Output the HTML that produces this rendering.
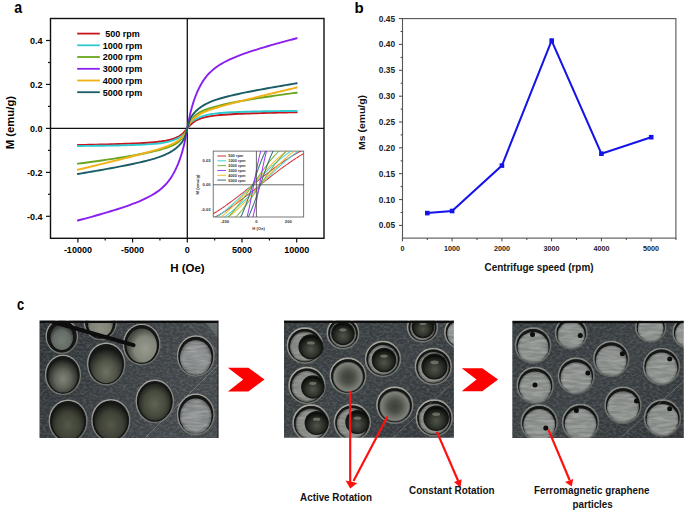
<!DOCTYPE html>
<html><head><meta charset="utf-8"><style>
html,body{margin:0;padding:0;background:#fff;}
#w{width:685px;height:512px;overflow:hidden;position:relative;background:#fff;}
svg{display:block;font-family:"Liberation Sans",sans-serif;}
</style></head><body><div id="w">
<svg width="685" height="512" viewBox="0 0 685 512">
<text transform="translate(14.3,12.6) scale(0.92,1.08)" font-size="15.4" font-weight="bold">a</text>
<rect x="50.5" y="18.5" width="273.5" height="219.8" fill="none" stroke="#111" stroke-width="1.4"/>
<line x1="50.5" y1="128.4" x2="324" y2="128.4" stroke="#111" stroke-width="1.3"/>
<line x1="187.3" y1="18.5" x2="187.3" y2="238.3" stroke="#111" stroke-width="1.3"/>
<line x1="46" y1="40.5" x2="50.5" y2="40.5" stroke="#111" stroke-width="1.2"/>
<text x="42.6" y="43.7" font-size="9" font-weight="bold" text-anchor="end">0.4</text>
<line x1="46" y1="84.4" x2="50.5" y2="84.4" stroke="#111" stroke-width="1.2"/>
<text x="42.6" y="87.6" font-size="9" font-weight="bold" text-anchor="end">0.2</text>
<line x1="46" y1="128.4" x2="50.5" y2="128.4" stroke="#111" stroke-width="1.2"/>
<text x="42.6" y="131.6" font-size="9" font-weight="bold" text-anchor="end">0.0</text>
<line x1="46" y1="172.4" x2="50.5" y2="172.4" stroke="#111" stroke-width="1.2"/>
<text x="42.6" y="175.6" font-size="9" font-weight="bold" text-anchor="end">-0.2</text>
<line x1="46" y1="216.3" x2="50.5" y2="216.3" stroke="#111" stroke-width="1.2"/>
<text x="42.6" y="219.5" font-size="9" font-weight="bold" text-anchor="end">-0.4</text>
<line x1="48" y1="62.5" x2="50.5" y2="62.5" stroke="#111" stroke-width="1.2"/>
<line x1="48" y1="106.4" x2="50.5" y2="106.4" stroke="#111" stroke-width="1.2"/>
<line x1="48" y1="150.4" x2="50.5" y2="150.4" stroke="#111" stroke-width="1.2"/>
<line x1="48" y1="194.3" x2="50.5" y2="194.3" stroke="#111" stroke-width="1.2"/>
<line x1="77.9" y1="238.3" x2="77.9" y2="242.6" stroke="#111" stroke-width="1.2"/>
<text x="77.9" y="252.8" font-size="9" font-weight="bold" text-anchor="middle">-10000</text>
<line x1="132.6" y1="238.3" x2="132.6" y2="242.6" stroke="#111" stroke-width="1.2"/>
<text x="132.6" y="252.8" font-size="9" font-weight="bold" text-anchor="middle">-5000</text>
<line x1="187.3" y1="238.3" x2="187.3" y2="242.6" stroke="#111" stroke-width="1.2"/>
<text x="187.3" y="252.8" font-size="9" font-weight="bold" text-anchor="middle">0</text>
<line x1="242.0" y1="238.3" x2="242.0" y2="242.6" stroke="#111" stroke-width="1.2"/>
<text x="242.0" y="252.8" font-size="9" font-weight="bold" text-anchor="middle">5000</text>
<line x1="296.7" y1="238.3" x2="296.7" y2="242.6" stroke="#111" stroke-width="1.2"/>
<text x="296.7" y="252.8" font-size="9" font-weight="bold" text-anchor="middle">10000</text>
<line x1="105.2" y1="238.3" x2="105.2" y2="240.6" stroke="#111" stroke-width="1.2"/>
<line x1="159.9" y1="238.3" x2="159.9" y2="240.6" stroke="#111" stroke-width="1.2"/>
<line x1="214.7" y1="238.3" x2="214.7" y2="240.6" stroke="#111" stroke-width="1.2"/>
<line x1="269.4" y1="238.3" x2="269.4" y2="240.6" stroke="#111" stroke-width="1.2"/>
<text x="187.4" y="272" font-size="11.5" font-weight="bold" text-anchor="middle">H (Oe)</text>
<text transform="translate(14.1,122.6) rotate(-90)" font-size="11.3" font-weight="bold" text-anchor="middle">M (emu/g)</text>
<g fill="none" stroke-width="1.9" stroke-linejoin="round" stroke-linecap="round"><polyline points="77.86,144.99 81.51,144.92 85.16,144.85 88.80,144.77 92.45,144.69 96.10,144.61 99.75,144.52 103.40,144.43 107.04,144.34 110.69,144.24 114.34,144.14 117.99,144.03 121.64,143.91 125.28,143.79 128.93,143.65 132.58,143.50 136.23,143.34 139.88,143.16 143.52,142.96 147.17,142.73 150.82,142.46 154.47,142.15 158.12,141.77 161.76,141.30 165.41,140.72 165.85,140.64 166.29,140.56 166.73,140.47 167.16,140.38 167.60,140.29 168.04,140.20 168.48,140.10 168.91,140.00 169.35,139.90 169.79,139.79 170.23,139.68 170.67,139.57 171.10,139.45 171.54,139.32 171.98,139.19 172.42,139.06 172.85,138.92 173.29,138.78 173.73,138.63 174.17,138.48 174.60,138.31 175.04,138.15 175.48,137.97 175.92,137.79 176.36,137.59 176.79,137.39 177.23,137.18 177.67,136.96 178.11,136.73 178.54,136.48 178.98,136.23 179.42,135.96 179.86,135.67 180.30,135.38 180.73,135.06 181.17,134.73 181.61,134.39 182.05,134.02 182.48,133.64 182.92,133.24 183.36,132.82 183.80,132.38 184.24,131.93 184.67,131.46 185.11,130.97 185.55,130.47 185.99,129.97 186.42,129.45 186.86,128.93 187.30,128.40 187.74,127.89 188.18,127.38 188.61,126.88 189.05,126.38 189.49,125.90 189.93,125.43 190.36,124.97 190.80,124.53 191.24,124.10 191.68,123.70 192.12,123.31 192.55,122.94 192.99,122.58 193.43,122.24 193.87,121.92 194.30,121.62 194.74,121.33 195.18,121.05 195.62,120.79 196.06,120.54 196.49,120.30 196.93,120.08 197.37,119.86 197.81,119.66 198.24,119.46 198.68,119.28 199.12,119.10 199.56,118.93 200.00,118.76 200.43,118.60 200.87,118.45 201.31,118.31 201.75,118.17 202.18,118.03 202.62,117.91 203.06,117.78 203.50,117.66 203.93,117.55 204.37,117.43 204.81,117.33 205.25,117.22 205.69,117.12 206.12,117.02 206.56,116.93 207.00,116.84 207.44,116.75 207.87,116.67 208.31,116.58 208.75,116.50 209.19,116.42 212.84,115.86 216.48,115.41 220.13,115.04 223.78,114.73 227.43,114.47 231.08,114.25 234.72,114.05 238.37,113.87 242.02,113.72 245.67,113.57 249.32,113.44 252.96,113.32 256.61,113.21 260.26,113.10 263.91,113.00 267.56,112.90 271.20,112.81 274.85,112.73 278.50,112.64 282.15,112.56 285.80,112.49 289.44,112.41 293.09,112.34 296.74,112.27" stroke="#c8141c"/>
<polyline points="77.86,145.98 81.51,145.95 85.16,145.91 88.80,145.88 92.45,145.84 96.10,145.79 99.75,145.75 103.40,145.70 107.04,145.64 110.69,145.58 114.34,145.52 117.99,145.44 121.64,145.36 125.28,145.27 128.93,145.17 132.58,145.06 136.23,144.92 139.88,144.77 143.52,144.60 147.17,144.39 150.82,144.14 154.47,143.83 158.12,143.45 161.76,142.97 165.41,142.34 165.85,142.26 166.29,142.17 166.73,142.07 167.16,141.98 167.60,141.88 168.04,141.77 168.48,141.67 168.91,141.56 169.35,141.44 169.79,141.32 170.23,141.20 170.67,141.07 171.10,140.94 171.54,140.80 171.98,140.66 172.42,140.52 172.85,140.37 173.29,140.21 173.73,140.05 174.17,139.88 174.60,139.70 175.04,139.52 175.48,139.34 175.92,139.15 176.36,138.95 176.79,138.74 177.23,138.53 177.67,138.31 178.11,138.08 178.54,137.85 178.98,137.61 179.42,137.36 179.86,137.11 180.30,136.84 180.73,136.57 181.17,136.29 181.61,136.00 182.05,135.70 182.48,135.39 182.92,135.07 183.36,134.73 183.80,134.37 184.24,133.99 184.67,133.57 185.11,133.10 185.55,132.55 185.99,131.87 186.42,130.97 186.86,129.80 187.30,128.40 187.74,127.01 188.18,125.84 188.61,124.95 189.05,124.27 189.49,123.72 189.93,123.25 190.36,122.84 190.80,122.46 191.24,122.10 191.68,121.77 192.12,121.45 192.55,121.14 192.99,120.84 193.43,120.55 193.87,120.27 194.30,120.00 194.74,119.74 195.18,119.48 195.62,119.24 196.06,119.00 196.49,118.76 196.93,118.54 197.37,118.32 197.81,118.11 198.24,117.91 198.68,117.71 199.12,117.52 199.56,117.33 200.00,117.15 200.43,116.98 200.87,116.81 201.31,116.65 201.75,116.49 202.18,116.34 202.62,116.20 203.06,116.06 203.50,115.92 203.93,115.79 204.37,115.66 204.81,115.54 205.25,115.42 205.69,115.31 206.12,115.20 206.56,115.09 207.00,114.99 207.44,114.89 207.87,114.80 208.31,114.70 208.75,114.61 209.19,114.53 212.84,113.90 216.48,113.43 220.13,113.05 223.78,112.74 227.43,112.49 231.08,112.29 234.72,112.11 238.37,111.96 242.02,111.83 245.67,111.71 249.32,111.61 252.96,111.52 256.61,111.44 260.26,111.37 263.91,111.30 267.56,111.24 271.20,111.19 274.85,111.14 278.50,111.09 282.15,111.05 285.80,111.01 289.44,110.98 293.09,110.94 296.74,110.91" stroke="#2cc9d2"/>
<polyline points="77.86,163.68 81.51,163.20 85.16,162.71 88.80,162.23 92.45,161.73 96.10,161.23 99.75,160.72 103.40,160.20 107.04,159.68 110.69,159.14 114.34,158.59 117.99,158.03 121.64,157.45 125.28,156.85 128.93,156.24 132.58,155.61 136.23,154.95 139.88,154.26 143.52,153.54 147.17,152.78 150.82,151.98 154.47,151.12 158.12,150.21 161.76,149.21 165.41,148.11 165.85,147.97 166.29,147.83 166.73,147.68 167.16,147.53 167.60,147.38 168.04,147.23 168.48,147.07 168.91,146.91 169.35,146.75 169.79,146.58 170.23,146.41 170.67,146.23 171.10,146.05 171.54,145.87 171.98,145.68 172.42,145.48 172.85,145.28 173.29,145.07 173.73,144.86 174.17,144.64 174.60,144.41 175.04,144.16 175.48,143.91 175.92,143.65 176.36,143.38 176.79,143.09 177.23,142.79 177.67,142.48 178.11,142.14 178.54,141.79 178.98,141.42 179.42,141.02 179.86,140.60 180.30,140.15 180.73,139.67 181.17,139.17 181.61,138.62 182.05,138.05 182.48,137.43 182.92,136.78 183.36,136.09 183.80,135.36 184.24,134.59 184.67,133.79 185.11,132.95 185.55,132.08 185.99,131.18 186.42,130.27 186.86,129.34 187.30,128.40 187.74,127.45 188.18,126.51 188.61,125.58 189.05,124.68 189.49,123.79 189.93,122.95 190.36,122.13 190.80,121.35 191.24,120.61 191.68,119.91 192.12,119.25 192.55,118.63 192.99,118.05 193.43,117.50 193.87,116.99 194.30,116.50 194.74,116.05 195.18,115.62 195.62,115.22 196.06,114.84 196.49,114.49 196.93,114.15 197.37,113.83 197.81,113.52 198.24,113.23 198.68,112.96 199.12,112.69 199.56,112.44 200.00,112.20 200.43,111.96 200.87,111.74 201.31,111.52 201.75,111.31 202.18,111.10 202.62,110.91 203.06,110.71 203.50,110.53 203.93,110.35 204.37,110.17 204.81,109.99 205.25,109.83 205.69,109.66 206.12,109.50 206.56,109.34 207.00,109.18 207.44,109.03 207.87,108.88 208.31,108.73 208.75,108.59 209.19,108.44 212.84,107.33 216.48,106.32 220.13,105.39 223.78,104.53 227.43,103.72 231.08,102.95 234.72,102.22 238.37,101.52 242.02,100.86 245.67,100.21 249.32,99.59 252.96,98.99 256.61,98.40 260.26,97.84 263.91,97.28 267.56,96.74 271.20,96.20 274.85,95.68 278.50,95.16 282.15,94.66 285.80,94.15 289.44,93.66 293.09,93.17 296.74,92.69" stroke="#6aa51f"/>
<polyline points="77.86,169.73 81.51,168.85 85.16,167.97 88.80,167.09 92.45,166.21 96.10,165.32 99.75,164.44 103.40,163.55 107.04,162.66 110.69,161.76 114.34,160.86 117.99,159.96 121.64,159.05 125.28,158.14 128.93,157.22 132.58,156.29 136.23,155.35 139.88,154.40 143.52,153.44 147.17,152.45 150.82,151.44 154.47,150.39 158.12,149.30 161.76,148.14 165.41,146.89 165.85,146.73 166.29,146.57 166.73,146.40 167.16,146.23 167.60,146.07 168.04,145.89 168.48,145.72 168.91,145.54 169.35,145.36 169.79,145.17 170.23,144.98 170.67,144.79 171.10,144.59 171.54,144.39 171.98,144.18 172.42,143.97 172.85,143.75 173.29,143.52 173.73,143.29 174.17,143.06 174.60,142.81 175.04,142.56 175.48,142.30 175.92,142.04 176.36,141.76 176.79,141.48 177.23,141.18 177.67,140.88 178.11,140.56 178.54,140.24 178.98,139.90 179.42,139.55 179.86,139.19 180.30,138.81 180.73,138.42 181.17,138.02 181.61,137.60 182.05,137.17 182.48,136.72 182.92,136.26 183.36,135.77 183.80,135.27 184.24,134.73 184.67,134.16 185.11,133.54 185.55,132.85 185.99,132.04 186.42,131.05 186.86,129.82 187.30,128.40 187.74,127.00 188.18,125.78 188.61,124.80 189.05,123.99 189.49,123.31 189.93,122.70 190.36,122.14 190.80,121.61 191.24,121.11 191.68,120.63 192.12,120.17 192.55,119.72 192.99,119.29 193.43,118.88 193.87,118.48 194.30,118.10 194.74,117.73 195.18,117.37 195.62,117.02 196.06,116.69 196.49,116.37 196.93,116.06 197.37,115.76 197.81,115.46 198.24,115.18 198.68,114.91 199.12,114.64 199.56,114.39 200.00,114.14 200.43,113.90 200.87,113.66 201.31,113.44 201.75,113.22 202.18,113.00 202.62,112.79 203.06,112.58 203.50,112.38 203.93,112.19 204.37,112.00 204.81,111.81 205.25,111.62 205.69,111.44 206.12,111.27 206.56,111.09 207.00,110.92 207.44,110.75 207.87,110.59 208.31,110.43 208.75,110.27 209.19,110.11 212.84,108.87 216.48,107.72 220.13,106.64 223.78,105.61 227.43,104.61 231.08,103.63 234.72,102.67 238.37,101.73 242.02,100.81 245.67,99.89 249.32,98.98 252.96,98.07 256.61,97.18 260.26,96.28 263.91,95.39 267.56,94.51 271.20,93.63 274.85,92.75 278.50,91.87 282.15,91.00 285.80,90.12 289.44,89.25 293.09,88.38 296.74,87.51" stroke="#f2b112"/>
<polyline points="77.86,220.52 81.51,219.54 85.16,218.55 88.80,217.56 92.45,216.55 96.10,215.52 99.75,214.48 103.40,213.43 107.04,212.35 110.69,211.25 114.34,210.13 117.99,208.98 121.64,207.79 125.28,206.56 128.93,205.28 132.58,203.94 136.23,202.54 139.88,201.04 143.52,199.44 147.17,197.70 150.82,195.78 154.47,193.62 158.12,191.15 161.76,188.24 165.41,184.73 165.85,184.26 166.29,183.77 166.73,183.28 167.16,182.77 167.60,182.24 168.04,181.70 168.48,181.15 168.91,180.58 169.35,179.99 169.79,179.39 170.23,178.77 170.67,178.13 171.10,177.47 171.54,176.79 171.98,176.09 172.42,175.38 172.85,174.64 173.29,173.87 173.73,173.09 174.17,172.28 174.60,171.44 175.04,170.58 175.48,169.70 175.92,168.78 176.36,167.84 176.79,166.87 177.23,165.87 177.67,164.84 178.11,163.77 178.54,162.68 178.98,161.54 179.42,160.37 179.86,159.16 180.30,157.90 180.73,156.61 181.17,155.26 181.61,153.86 182.05,152.40 182.48,150.87 182.92,149.27 183.36,147.60 183.80,145.83 184.24,143.98 184.67,142.02 185.11,139.96 185.55,137.80 185.99,135.55 186.42,133.21 186.86,130.82 187.30,128.40 187.74,126.03 188.18,123.69 188.61,121.41 189.05,119.20 189.49,117.09 189.93,115.07 190.36,113.16 190.80,111.34 191.24,109.61 191.68,107.97 192.12,106.41 192.55,104.92 192.99,103.49 193.43,102.12 193.87,100.80 194.30,99.53 194.74,98.30 195.18,97.12 195.62,95.97 196.06,94.86 196.49,93.79 196.93,92.74 197.37,91.73 197.81,90.76 198.24,89.81 198.68,88.88 199.12,87.99 199.56,87.12 200.00,86.28 200.43,85.47 200.87,84.67 201.31,83.90 201.75,83.16 202.18,82.43 202.62,81.73 203.06,81.05 203.50,80.38 203.93,79.74 204.37,79.12 204.81,78.51 205.25,77.92 205.69,77.34 206.12,76.79 206.56,76.24 207.00,75.72 207.44,75.20 207.87,74.70 208.31,74.22 208.75,73.74 209.19,73.28 212.84,69.85 216.48,67.00 220.13,64.58 223.78,62.47 227.43,60.59 231.08,58.89 234.72,57.32 238.37,55.86 242.02,54.48 245.67,53.17 249.32,51.92 252.96,50.72 256.61,49.55 260.26,48.42 263.91,47.33 267.56,46.25 271.20,45.20 274.85,44.16 278.50,43.15 282.15,42.15 285.80,41.16 289.44,40.18 293.09,39.22 296.74,38.26" stroke="#8a1ff0"/>
<polyline points="77.86,174.02 81.51,173.40 85.16,172.77 88.80,172.14 92.45,171.50 96.10,170.86 99.75,170.22 103.40,169.56 107.04,168.90 110.69,168.24 114.34,167.56 117.99,166.87 121.64,166.17 125.28,165.45 128.93,164.72 132.58,163.96 136.23,163.18 139.88,162.36 143.52,161.51 147.17,160.60 150.82,159.63 154.47,158.57 158.12,157.40 161.76,156.08 165.41,154.56 165.85,154.36 166.29,154.16 166.73,153.95 167.16,153.74 167.60,153.52 168.04,153.30 168.48,153.07 168.91,152.84 169.35,152.61 169.79,152.36 170.23,152.12 170.67,151.86 171.10,151.60 171.54,151.34 171.98,151.07 172.42,150.79 172.85,150.50 173.29,150.21 173.73,149.91 174.17,149.60 174.60,149.29 175.04,148.96 175.48,148.63 175.92,148.28 176.36,147.93 176.79,147.57 177.23,147.19 177.67,146.81 178.11,146.41 178.54,146.00 178.98,145.57 179.42,145.12 179.86,144.66 180.30,144.18 180.73,143.67 181.17,143.13 181.61,142.57 182.05,141.96 182.48,141.31 182.92,140.61 183.36,139.84 183.80,138.99 184.24,138.06 184.67,137.02 185.11,135.86 185.55,134.58 185.99,133.17 186.42,131.65 186.86,130.05 187.30,128.40 187.74,126.77 188.18,125.18 188.61,123.67 189.05,122.28 189.49,121.01 189.93,119.87 190.36,118.84 190.80,117.91 191.24,117.07 191.68,116.31 192.12,115.61 192.55,114.97 192.99,114.37 193.43,113.81 193.87,113.28 194.30,112.78 194.74,112.30 195.18,111.84 195.62,111.40 196.06,110.97 196.49,110.56 196.93,110.17 197.37,109.79 197.81,109.42 198.24,109.06 198.68,108.71 199.12,108.37 199.56,108.04 200.00,107.72 200.43,107.40 200.87,107.10 201.31,106.80 201.75,106.51 202.18,106.23 202.62,105.95 203.06,105.68 203.50,105.42 203.93,105.16 204.37,104.91 204.81,104.67 205.25,104.43 205.69,104.19 206.12,103.97 206.56,103.74 207.00,103.52 207.44,103.31 207.87,103.10 208.31,102.89 208.75,102.69 209.19,102.49 212.84,100.98 216.48,99.68 220.13,98.52 223.78,97.47 227.43,96.51 231.08,95.61 234.72,94.77 238.37,93.96 242.02,93.18 245.67,92.44 249.32,91.71 252.96,91.00 256.61,90.30 260.26,89.62 263.91,88.95 267.56,88.29 271.20,87.63 274.85,86.99 278.50,86.35 282.15,85.71 285.80,85.08 289.44,84.46 293.09,83.84 296.74,83.22" stroke="#1b5c66"/></g>
<line x1="77.2" y1="33.6" x2="99.8" y2="33.6" stroke="#c8141c" stroke-width="1.8"/>
<text x="122.6" y="36.9" font-size="9" font-weight="bold" text-anchor="middle">500 rpm</text>
<line x1="77.2" y1="45.3" x2="99.8" y2="45.3" stroke="#2cc9d2" stroke-width="1.8"/>
<text x="122.6" y="48.6" font-size="9" font-weight="bold" text-anchor="middle">1000 rpm</text>
<line x1="77.2" y1="57.0" x2="99.8" y2="57.0" stroke="#6aa51f" stroke-width="1.8"/>
<text x="122.6" y="60.3" font-size="9" font-weight="bold" text-anchor="middle">2000 rpm</text>
<line x1="77.2" y1="68.8" x2="99.8" y2="68.8" stroke="#8a1ff0" stroke-width="1.8"/>
<text x="122.6" y="72.1" font-size="9" font-weight="bold" text-anchor="middle">3000 rpm</text>
<line x1="77.2" y1="80.5" x2="99.8" y2="80.5" stroke="#f2b112" stroke-width="1.8"/>
<text x="122.6" y="83.8" font-size="9" font-weight="bold" text-anchor="middle">4000 rpm</text>
<line x1="77.2" y1="92.2" x2="99.8" y2="92.2" stroke="#1b5c66" stroke-width="1.8"/>
<text x="122.6" y="95.5" font-size="9" font-weight="bold" text-anchor="middle">5000 rpm</text>
<g>
<rect x="213.2" y="151.1" width="90.5" height="65.9" fill="#fff" stroke="#555" stroke-width="0.8"/>
<clipPath id="ic"><rect x="213.2" y="151.1" width="90.5" height="65.9"/></clipPath>
<g clip-path="url(#ic)" fill="none" stroke-width="1.05" opacity="0.85"><polyline points="213.2,213.8 214.5,213.0 215.8,212.2 217.1,211.4 218.4,210.5 219.8,209.6 221.1,208.8 222.4,207.9 223.7,207.0 225.0,206.1 226.3,205.1 227.6,204.2 228.9,203.3 230.3,202.3 231.6,201.4 232.9,200.4 234.2,199.4 235.5,198.4 236.8,197.4 238.1,196.4 239.4,195.4 240.7,194.4 242.1,193.3 243.4,192.3 244.7,191.3 246.0,190.2 247.3,189.2 248.6,188.1 249.9,187.1 251.2,186.1 252.5,185.0 253.9,184.0 255.2,182.9 256.5,181.9 257.8,180.8 259.1,179.8 260.4,178.7 261.7,177.7 263.0,176.7 264.4,175.6 265.7,174.6 267.0,173.6 268.3,172.6 269.6,171.6 270.9,170.6 272.2,169.6 273.5,168.6 274.8,167.7 276.2,166.7 277.5,165.7 278.8,164.8 280.1,163.9 281.4,163.0 282.7,162.1 284.0,161.2 285.3,160.3 286.6,159.4 288.0,158.6 289.3,157.7 290.6,156.9 291.9,156.1 293.2,155.3 294.5,154.5 295.8,153.7 297.1,153.0 298.5,152.2 299.8,151.5 301.1,150.8 302.4,150.1 303.7,149.4" stroke="#c8141c"/>
<polyline points="213.2,218.3 214.5,217.5 215.8,216.8 217.1,216.0 218.4,215.3 219.8,214.5 221.1,213.7 222.4,212.9 223.7,212.0 225.0,211.2 226.3,210.3 227.6,209.5 228.9,208.6 230.3,207.7 231.6,206.8 232.9,205.9 234.2,205.0 235.5,204.0 236.8,203.1 238.1,202.1 239.4,201.2 240.7,200.2 242.1,199.2 243.4,198.2 244.7,197.2 246.0,196.2 247.3,195.2 248.6,194.2 249.9,193.1 251.2,192.1 252.5,191.1 253.9,190.0 255.2,189.0 256.5,187.9 257.8,186.9 259.1,185.8 260.4,184.8 261.7,183.7 263.0,182.7 264.4,181.6 265.7,180.6 267.0,179.6 268.3,178.5 269.6,177.5 270.9,176.4 272.2,175.4 273.5,174.4 274.8,173.4 276.2,172.4 277.5,171.4 278.8,170.4 280.1,169.4 281.4,168.4 282.7,167.5 284.0,166.5 285.3,165.6 286.6,164.6 288.0,163.7 289.3,162.8 290.6,161.9 291.9,161.0 293.2,160.1 294.5,159.2 295.8,158.4 297.1,157.6 298.5,156.7 299.8,155.9 301.1,155.1 302.4,154.3 303.7,153.6" stroke="#c8141c"/>
<polyline points="213.2,219.5 214.5,218.6 215.8,217.7 217.1,216.8 218.4,215.8 219.8,214.9 221.1,213.9 222.4,212.9 223.7,211.8 225.0,210.8 226.3,209.7 227.6,208.6 228.9,207.5 230.3,206.3 231.6,205.2 232.9,204.0 234.2,202.8 235.5,201.6 236.8,200.4 238.1,199.2 239.4,198.0 240.7,196.7 242.1,195.4 243.4,194.2 244.7,192.9 246.0,191.6 247.3,190.3 248.6,189.0 249.9,187.7 251.2,186.4 252.5,185.1 253.9,183.7 255.2,182.4 256.5,181.1 257.8,179.8 259.1,178.5 260.4,177.2 261.7,175.9 263.0,174.7 264.4,173.4 265.7,172.1 267.0,170.9 268.3,169.6 269.6,168.4 270.9,167.2 272.2,166.0 273.5,164.9 274.8,163.7 276.2,162.6 277.5,161.4 278.8,160.3 280.1,159.2 281.4,158.2 282.7,157.1 284.0,156.1 285.3,155.1 286.6,154.1 288.0,153.2 289.3,152.2 290.6,151.3 291.9,150.4 293.2,149.6 294.5,148.7 295.8,147.9 297.1,147.1 298.5,146.3 299.8,145.5 301.1,144.8 302.4,144.1 303.7,143.4" stroke="#2cc9d2"/>
<polyline points="213.2,224.2 214.5,223.4 215.8,222.7 217.1,221.9 218.4,221.0 219.8,220.2 221.1,219.3 222.4,218.4 223.7,217.5 225.0,216.6 226.3,215.6 227.6,214.7 228.9,213.7 230.3,212.6 231.6,211.6 232.9,210.5 234.2,209.5 235.5,208.4 236.8,207.2 238.1,206.1 239.4,205.0 240.7,203.8 242.1,202.6 243.4,201.4 244.7,200.2 246.0,198.9 247.3,197.7 248.6,196.4 249.9,195.2 251.2,193.9 252.5,192.6 253.9,191.3 255.2,190.0 256.5,188.7 257.8,187.4 259.1,186.1 260.4,184.8 261.7,183.5 263.0,182.2 264.4,180.9 265.7,179.5 267.0,178.3 268.3,177.0 269.6,175.7 270.9,174.4 272.2,173.1 273.5,171.9 274.8,170.6 276.2,169.4 277.5,168.2 278.8,167.0 280.1,165.8 281.4,164.6 282.7,163.5 284.0,162.3 285.3,161.2 286.6,160.1 288.0,159.0 289.3,158.0 290.6,156.9 291.9,155.9 293.2,154.9 294.5,153.9 295.8,153.0 297.1,152.1 298.5,151.1 299.8,150.3 301.1,149.4 302.4,148.5 303.7,147.7" stroke="#2cc9d2"/>
<polyline points="213.2,222.8 214.5,221.9 215.8,221.0 217.1,220.0 218.4,219.0 219.8,218.0 221.1,217.0 222.4,215.9 223.7,214.8 225.0,213.7 226.3,212.5 227.6,211.3 228.9,210.1 230.3,208.9 231.6,207.6 232.9,206.4 234.2,205.0 235.5,203.7 236.8,202.4 238.1,201.0 239.4,199.6 240.7,198.2 242.1,196.8 243.4,195.4 244.7,193.9 246.0,192.5 247.3,191.0 248.6,189.5 249.9,188.1 251.2,186.6 252.5,185.1 253.9,183.6 255.2,182.1 256.5,180.6 257.8,179.2 259.1,177.7 260.4,176.2 261.7,174.8 263.0,173.3 264.4,171.9 265.7,170.5 267.0,169.1 268.3,167.8 269.6,166.4 270.9,165.1 272.2,163.7 273.5,162.5 274.8,161.2 276.2,159.9 277.5,158.7 278.8,157.5 280.1,156.4 281.4,155.2 282.7,154.1 284.0,153.0 285.3,152.0 286.6,151.0 288.0,150.0 289.3,149.0 290.6,148.1 291.9,147.1 293.2,146.3 294.5,145.4 295.8,144.6 297.1,143.8 298.5,143.0 299.8,142.2 301.1,141.5 302.4,140.8 303.7,140.1" stroke="#f2b112"/>
<polyline points="213.2,227.5 214.5,226.8 215.8,226.0 217.1,225.2 218.4,224.4 219.8,223.5 221.1,222.6 222.4,221.7 223.7,220.8 225.0,219.8 226.3,218.8 227.6,217.8 228.9,216.7 230.3,215.7 231.6,214.6 232.9,213.4 234.2,212.3 235.5,211.1 236.8,209.9 238.1,208.6 239.4,207.4 240.7,206.1 242.1,204.8 243.4,203.4 244.7,202.1 246.0,200.7 247.3,199.3 248.6,197.9 249.9,196.5 251.2,195.1 252.5,193.6 253.9,192.2 255.2,190.7 256.5,189.2 257.8,187.7 259.1,186.3 260.4,184.8 261.7,183.3 263.0,181.8 264.4,180.3 265.7,178.9 267.0,177.4 268.3,175.9 269.6,174.5 270.9,173.1 272.2,171.6 273.5,170.2 274.8,168.8 276.2,167.5 277.5,166.1 278.8,164.8 280.1,163.5 281.4,162.2 282.7,160.9 284.0,159.7 285.3,158.5 286.6,157.3 288.0,156.1 289.3,155.0 290.6,153.9 291.9,152.8 293.2,151.8 294.5,150.8 295.8,149.8 297.1,148.8 298.5,147.9 299.8,147.0 301.1,146.1 302.4,145.2 303.7,144.4" stroke="#f2b112"/>
<polyline points="213.2,229.6 214.5,228.7 215.8,227.8 217.1,226.9 218.4,225.9 219.8,224.8 221.1,223.8 222.4,222.6 223.7,221.4 225.0,220.2 226.3,218.9 227.6,217.6 228.9,216.2 230.3,214.8 231.6,213.4 232.9,211.9 234.2,210.3 235.5,208.7 236.8,207.1 238.1,205.4 239.4,203.7 240.7,202.0 242.1,200.2 243.4,198.4 244.7,196.5 246.0,194.7 247.3,192.8 248.6,190.9 249.9,189.0 251.2,187.1 252.5,185.2 253.9,183.2 255.2,181.3 256.5,179.4 257.8,177.5 259.1,175.6 260.4,173.8 261.7,171.9 263.0,170.1 264.4,168.3 265.7,166.6 267.0,164.8 268.3,163.2 269.6,161.5 270.9,159.9 272.2,158.3 273.5,156.8 274.8,155.3 276.2,153.9 277.5,152.5 278.8,151.2 280.1,149.9 281.4,148.6 282.7,147.4 284.0,146.3 285.3,145.2 286.6,144.1 288.0,143.1 289.3,142.1 290.6,141.2 291.9,140.3 293.2,139.5 294.5,138.7 295.8,137.9 297.1,137.2 298.5,136.5 299.8,135.8 301.1,135.2 302.4,134.6 303.7,134.0" stroke="#6aa51f"/>
<polyline points="213.2,233.9 214.5,233.2 215.8,232.6 217.1,231.8 218.4,231.1 219.8,230.3 221.1,229.4 222.4,228.6 223.7,227.6 225.0,226.7 226.3,225.7 227.6,224.6 228.9,223.5 230.3,222.4 231.6,221.2 232.9,220.0 234.2,218.7 235.5,217.3 236.8,216.0 238.1,214.5 239.4,213.1 240.7,211.5 242.1,210.0 243.4,208.4 244.7,206.7 246.0,205.1 247.3,203.3 248.6,201.6 249.9,199.8 251.2,198.0 252.5,196.2 253.9,194.3 255.2,192.4 256.5,190.5 257.8,188.6 259.1,186.7 260.4,184.8 261.7,182.9 263.0,180.9 264.4,179.0 265.7,177.1 267.0,175.3 268.3,173.4 269.6,171.6 270.9,169.7 272.2,168.0 273.5,166.2 274.8,164.5 276.2,162.8 277.5,161.2 278.8,159.6 280.1,158.0 281.4,156.5 282.7,155.0 284.0,153.6 285.3,152.2 286.6,150.9 288.0,149.6 289.3,148.4 290.6,147.2 291.9,146.0 293.2,145.0 294.5,143.9 295.8,142.9 297.1,141.9 298.5,141.0 299.8,140.1 301.1,139.3 302.4,138.5 303.7,137.8" stroke="#6aa51f"/>
<polyline points="213.2,242.6 214.5,242.2 215.8,241.9 217.1,241.5 218.4,241.1 219.8,240.5 221.1,240.0 222.4,239.3 223.7,238.6 225.0,237.8 226.3,236.9 227.6,235.8 228.9,234.7 230.3,233.4 231.6,232.0 232.9,230.4 234.2,228.7 235.5,226.7 236.8,224.6 238.1,222.3 239.4,219.8 240.7,217.1 242.1,214.3 243.4,211.2 244.7,207.9 246.0,204.5 247.3,200.9 248.6,197.2 249.9,193.4 251.2,189.5 252.5,185.6 253.9,181.6 255.2,177.7 256.5,173.9 257.8,170.1 259.1,166.5 260.4,163.0 261.7,159.7 263.0,156.5 264.4,153.5 265.7,150.8 267.0,148.2 268.3,145.8 269.6,143.7 270.9,141.7 272.2,139.8 273.5,138.2 274.8,136.7 276.2,135.4 277.5,134.2 278.8,133.1 280.1,132.2 281.4,131.3 282.7,130.5 284.0,129.9 285.3,129.3 286.6,128.7 288.0,128.3 289.3,127.8 290.6,127.5 291.9,127.2 293.2,126.9 294.5,126.6 295.8,126.4 297.1,126.2 298.5,126.0 299.8,125.9 301.1,125.8 302.4,125.6 303.7,125.5" stroke="#1b5c66"/>
<polyline points="213.2,243.7 214.5,243.6 215.8,243.4 217.1,243.2 218.4,243.0 219.8,242.8 221.1,242.5 222.4,242.2 223.7,241.8 225.0,241.4 226.3,241.0 227.6,240.4 228.9,239.9 230.3,239.2 231.6,238.4 232.9,237.6 234.2,236.7 235.5,235.6 236.8,234.4 238.1,233.1 239.4,231.7 240.7,230.1 242.1,228.3 243.4,226.3 244.7,224.2 246.0,221.8 247.3,219.3 248.6,216.6 249.9,213.6 251.2,210.5 252.5,207.2 253.9,203.8 255.2,200.1 256.5,196.4 257.8,192.6 259.1,188.7 260.4,184.7 261.7,180.8 263.0,176.9 264.4,173.1 265.7,169.4 267.0,165.8 268.3,162.3 269.6,159.0 270.9,155.9 272.2,153.0 273.5,150.2 274.8,147.7 276.2,145.4 277.5,143.2 278.8,141.3 280.1,139.5 281.4,137.9 282.7,136.4 284.0,135.1 285.3,134.0 286.6,132.9 288.0,132.0 289.3,131.1 290.6,130.4 291.9,129.7 293.2,129.1 294.5,128.6 295.8,128.2 297.1,127.8 298.5,127.4 299.8,127.1 301.1,126.8 302.4,126.6 303.7,126.4" stroke="#1b5c66"/>
<polyline points="213.2,244.7 214.5,244.7 215.8,244.7 217.1,244.6 218.4,244.6 219.8,244.5 221.1,244.5 222.4,244.4 223.7,244.3 225.0,244.2 226.3,244.0 227.6,243.8 228.9,243.5 230.3,243.1 231.6,242.7 232.9,242.1 234.2,241.4 235.5,240.6 236.8,239.5 238.1,238.1 239.4,236.5 240.7,234.4 242.1,231.9 243.4,228.9 244.7,225.3 246.0,221.1 247.3,216.2 248.6,210.7 249.9,204.6 251.2,198.0 252.5,191.1 253.9,183.9 255.2,176.8 256.5,169.9 257.8,163.4 259.1,157.5 260.4,152.1 261.7,147.4 263.0,143.4 264.4,139.9 265.7,137.0 267.0,134.7 268.3,132.7 269.6,131.1 270.9,129.8 272.2,128.8 273.5,128.0 274.8,127.3 276.2,126.8 277.5,126.4 278.8,126.0 280.1,125.8 281.4,125.6 282.7,125.4 284.0,125.3 285.3,125.2 286.6,125.1 288.0,125.0 289.3,125.0 290.6,124.9 291.9,124.9 293.2,124.9 294.5,124.9 295.8,124.9 297.1,124.8 298.5,124.8 299.8,124.8 301.1,124.8 302.4,124.8 303.7,124.8" stroke="#8a1ff0"/>
<polyline points="213.2,244.8 214.5,244.8 215.8,244.8 217.1,244.7 218.4,244.7 219.8,244.7 221.1,244.7 222.4,244.7 223.7,244.6 225.0,244.6 226.3,244.5 227.6,244.4 228.9,244.3 230.3,244.2 231.6,244.1 232.9,243.9 234.2,243.6 235.5,243.3 236.8,242.9 238.1,242.4 239.4,241.8 240.7,241.0 242.1,240.0 243.4,238.7 244.7,237.2 246.0,235.3 247.3,233.0 248.6,230.2 249.9,226.9 251.2,223.0 252.5,218.4 253.9,213.1 255.2,207.3 256.5,200.9 257.8,194.0 259.1,186.9 260.4,179.8 261.7,172.8 263.0,166.1 264.4,159.9 265.7,154.3 267.0,149.3 268.3,145.0 269.6,141.3 270.9,138.2 272.2,135.6 273.5,133.5 274.8,131.7 276.2,130.3 277.5,129.2 278.8,128.3 280.1,127.6 281.4,127.0 282.7,126.5 284.0,126.2 285.3,125.9 286.6,125.7 288.0,125.5 289.3,125.3 290.6,125.2 291.9,125.1 293.2,125.1 294.5,125.0 295.8,125.0 297.1,124.9 298.5,124.9 299.8,124.9 301.1,124.9 302.4,124.8 303.7,124.8" stroke="#8a1ff0"/></g>
<line x1="213.2" y1="184.8" x2="303.7" y2="184.8" stroke="#444" stroke-width="0.8"/>
<line x1="256.4" y1="151.1" x2="256.4" y2="217" stroke="#444" stroke-width="0.8"/>
<line x1="217.3" y1="156.0" x2="226.1" y2="156.0" stroke="#c8141c" stroke-width="1.1" opacity="0.8"/>
<text x="228.3" y="157.4" font-size="3.9" font-weight="bold" fill="#333">500 rpm</text>
<line x1="217.3" y1="160.8" x2="226.1" y2="160.8" stroke="#2cc9d2" stroke-width="1.1" opacity="0.8"/>
<text x="228.3" y="162.2" font-size="3.9" font-weight="bold" fill="#333">1000 rpm</text>
<line x1="217.3" y1="165.6" x2="226.1" y2="165.6" stroke="#6aa51f" stroke-width="1.1" opacity="0.8"/>
<text x="228.3" y="167.0" font-size="3.9" font-weight="bold" fill="#333">2000 rpm</text>
<line x1="217.3" y1="170.5" x2="226.1" y2="170.5" stroke="#8a1ff0" stroke-width="1.1" opacity="0.8"/>
<text x="228.3" y="171.9" font-size="3.9" font-weight="bold" fill="#333">3000 rpm</text>
<line x1="217.3" y1="175.3" x2="226.1" y2="175.3" stroke="#f2b112" stroke-width="1.1" opacity="0.8"/>
<text x="228.3" y="176.7" font-size="3.9" font-weight="bold" fill="#333">4000 rpm</text>
<line x1="217.3" y1="180.1" x2="226.1" y2="180.1" stroke="#1b5c66" stroke-width="1.1" opacity="0.8"/>
<text x="228.3" y="181.5" font-size="3.9" font-weight="bold" fill="#333">5000 rpm</text>
<text x="210.6" y="161.5" font-size="4.2" font-weight="bold" fill="#333" text-anchor="end">0.03</text>
<text x="210.6" y="186.3" font-size="4.2" font-weight="bold" fill="#333" text-anchor="end">0.00</text>
<text x="210.6" y="211.1" font-size="4.2" font-weight="bold" fill="#333" text-anchor="end">-0.03</text>
<text x="224.9" y="222.6" font-size="4.2" font-weight="bold" fill="#333" text-anchor="middle">-200</text>
<text x="256.4" y="222.6" font-size="4.2" font-weight="bold" fill="#333" text-anchor="middle">0</text>
<text x="288.3" y="222.6" font-size="4.2" font-weight="bold" fill="#333" text-anchor="middle">200</text>
<text x="258.6" y="229.6" font-size="4.2" font-weight="bold" fill="#333" text-anchor="middle">H (Oe)</text>
<text transform="translate(198.8,184.5) rotate(-90)" font-size="4.2" font-weight="bold" fill="#333" text-anchor="middle">M (emu/g)</text>
</g>
<text x="354.6" y="13" font-size="15" font-weight="bold">b</text>
<rect x="402.5" y="18.6" width="273.4" height="219.5" fill="none" stroke="#555" stroke-width="1.1"/>
<line x1="399" y1="225.4" x2="402.5" y2="225.4" stroke="#444" stroke-width="1"/>
<text x="395" y="228.3" font-size="8.3" font-weight="bold" text-anchor="end" fill="#222">0.05</text>
<line x1="399" y1="199.6" x2="402.5" y2="199.6" stroke="#444" stroke-width="1"/>
<text x="395" y="202.5" font-size="8.3" font-weight="bold" text-anchor="end" fill="#222">0.10</text>
<line x1="399" y1="173.7" x2="402.5" y2="173.7" stroke="#444" stroke-width="1"/>
<text x="395" y="176.6" font-size="8.3" font-weight="bold" text-anchor="end" fill="#222">0.15</text>
<line x1="399" y1="147.8" x2="402.5" y2="147.8" stroke="#444" stroke-width="1"/>
<text x="395" y="150.8" font-size="8.3" font-weight="bold" text-anchor="end" fill="#222">0.20</text>
<line x1="399" y1="122.0" x2="402.5" y2="122.0" stroke="#444" stroke-width="1"/>
<text x="395" y="124.9" font-size="8.3" font-weight="bold" text-anchor="end" fill="#222">0.25</text>
<line x1="399" y1="96.2" x2="402.5" y2="96.2" stroke="#444" stroke-width="1"/>
<text x="395" y="99.1" font-size="8.3" font-weight="bold" text-anchor="end" fill="#222">0.30</text>
<line x1="399" y1="70.3" x2="402.5" y2="70.3" stroke="#444" stroke-width="1"/>
<text x="395" y="73.2" font-size="8.3" font-weight="bold" text-anchor="end" fill="#222">0.35</text>
<line x1="399" y1="44.4" x2="402.5" y2="44.4" stroke="#444" stroke-width="1"/>
<text x="395" y="47.3" font-size="8.3" font-weight="bold" text-anchor="end" fill="#222">0.40</text>
<line x1="399" y1="18.6" x2="402.5" y2="18.6" stroke="#444" stroke-width="1"/>
<text x="395" y="21.5" font-size="8.3" font-weight="bold" text-anchor="end" fill="#222">0.45</text>
<line x1="400.6" y1="212.5" x2="402.5" y2="212.5" stroke="#444" stroke-width="1"/>
<line x1="400.6" y1="186.6" x2="402.5" y2="186.6" stroke="#444" stroke-width="1"/>
<line x1="400.6" y1="160.8" x2="402.5" y2="160.8" stroke="#444" stroke-width="1"/>
<line x1="400.6" y1="134.9" x2="402.5" y2="134.9" stroke="#444" stroke-width="1"/>
<line x1="400.6" y1="109.1" x2="402.5" y2="109.1" stroke="#444" stroke-width="1"/>
<line x1="400.6" y1="83.2" x2="402.5" y2="83.2" stroke="#444" stroke-width="1"/>
<line x1="400.6" y1="57.4" x2="402.5" y2="57.4" stroke="#444" stroke-width="1"/>
<line x1="400.6" y1="31.5" x2="402.5" y2="31.5" stroke="#444" stroke-width="1"/>
<line x1="402.4" y1="238.1" x2="402.4" y2="241.4" stroke="#444" stroke-width="1"/>
<text x="402.4" y="251.4" font-size="7.2" font-weight="bold" text-anchor="middle" fill="#222">0</text>
<line x1="452.1" y1="238.1" x2="452.1" y2="241.4" stroke="#444" stroke-width="1"/>
<text x="452.1" y="251.4" font-size="7.2" font-weight="bold" text-anchor="middle" fill="#222">1000</text>
<line x1="501.9" y1="238.1" x2="501.9" y2="241.4" stroke="#444" stroke-width="1"/>
<text x="501.9" y="251.4" font-size="7.2" font-weight="bold" text-anchor="middle" fill="#222">2000</text>
<line x1="551.6" y1="238.1" x2="551.6" y2="241.4" stroke="#444" stroke-width="1"/>
<text x="551.6" y="251.4" font-size="7.2" font-weight="bold" text-anchor="middle" fill="#222">3000</text>
<line x1="601.4" y1="238.1" x2="601.4" y2="241.4" stroke="#444" stroke-width="1"/>
<text x="601.4" y="251.4" font-size="7.2" font-weight="bold" text-anchor="middle" fill="#222">4000</text>
<line x1="651.1" y1="238.1" x2="651.1" y2="241.4" stroke="#444" stroke-width="1"/>
<text x="651.1" y="251.4" font-size="7.2" font-weight="bold" text-anchor="middle" fill="#222">5000</text>
<line x1="427.3" y1="238.1" x2="427.3" y2="240" stroke="#444" stroke-width="1"/>
<line x1="477.0" y1="238.1" x2="477.0" y2="240" stroke="#444" stroke-width="1"/>
<line x1="526.8" y1="238.1" x2="526.8" y2="240" stroke="#444" stroke-width="1"/>
<line x1="576.5" y1="238.1" x2="576.5" y2="240" stroke="#444" stroke-width="1"/>
<line x1="626.3" y1="238.1" x2="626.3" y2="240" stroke="#444" stroke-width="1"/>
<line x1="676.0" y1="238.1" x2="676.0" y2="240" stroke="#444" stroke-width="1"/>
<text x="539" y="271.2" font-size="10.2" font-weight="bold" text-anchor="middle" fill="#111" textLength="109" lengthAdjust="spacingAndGlyphs">Centrifuge speed (rpm)</text>
<text transform="translate(365.3,122.4) rotate(-90)" font-size="9.7" font-weight="bold" text-anchor="middle" fill="#111" textLength="55" lengthAdjust="spacingAndGlyphs">Ms (emu/g)</text>
<polyline points="427.3,213.1 452.1,211.0 501.9,165.6 551.6,40.6 601.4,153.7 651.1,137.2" fill="none" stroke="#1414e8" stroke-width="2"/>
<rect x="425.0" y="210.8" width="4.6" height="4.6" fill="#1414e8"/>
<rect x="449.8" y="208.7" width="4.6" height="4.6" fill="#1414e8"/>
<rect x="499.6" y="163.3" width="4.6" height="4.6" fill="#1414e8"/>
<rect x="549.4" y="38.3" width="4.6" height="4.6" fill="#1414e8"/>
<rect x="599.1" y="151.4" width="4.6" height="4.6" fill="#1414e8"/>
<rect x="648.9" y="134.9" width="4.6" height="4.6" fill="#1414e8"/>
<text transform="translate(17.1,309.5) scale(0.86,1.04)" font-size="15" font-weight="bold">c</text>
<defs>
<linearGradient id="gPlate" x1="0" y1="0" x2="1" y2="1">
 <stop offset="0" stop-color="#33383b"/><stop offset="0.5" stop-color="#3a3f42"/><stop offset="1" stop-color="#303437"/>
</linearGradient>
<linearGradient id="gPlate1" x1="0" y1="0" x2="1" y2="0.3">
 <stop offset="0" stop-color="#2c3134"/><stop offset="0.55" stop-color="#3a3f42"/><stop offset="1" stop-color="#43484b"/>
</linearGradient>
<linearGradient id="gRim" x1="0.3" y1="0" x2="0.7" y2="1">
 <stop offset="0" stop-color="#bdbdb0"/><stop offset="0.5" stop-color="#94968e"/><stop offset="1" stop-color="#74776f"/>
</linearGradient>
<filter id="soft" x="0" y="0" width="1" height="1"><feGaussianBlur stdDeviation="0.5"/></filter>
<filter id="tex" x="0" y="0" width="1" height="1">
 <feTurbulence type="fractalNoise" baseFrequency="0.3 0.45" numOctaves="3" seed="7"/>
 <feColorMatrix type="matrix" values="0 0 0 0 0.55  0 0 0 0 0.58  0 0 0 0 0.6  0.45 0 0 0 -0.17"/>
</filter>
<filter id="mott" x="0" y="0" width="1" height="1">
 <feTurbulence type="fractalNoise" baseFrequency="0.07 0.35" numOctaves="2" seed="11" result="n"/>
 <feColorMatrix in="n" type="matrix" values="0 0 0 0 0.7  0 0 0 0 0.72  0 0 0 0 0.71  0.7 0 0 0 -0.22" result="w"/>
 <feComposite in="w" in2="SourceAlpha" operator="in"/>
</filter>
<radialGradient id="g1" cx="0.5" cy="0.5" r="0.5"><stop offset="0" stop-color="#8a8d8d"/><stop offset="0.8" stop-color="#808383"/><stop offset="1" stop-color="#585b5b"/></radialGradient><radialGradient id="g2" cx="0.5" cy="0.5" r="0.5"><stop offset="0" stop-color="#888c89"/><stop offset="0.85" stop-color="#828683"/><stop offset="1" stop-color="#5a5e5b"/></radialGradient><radialGradient id="g3" cx="0.5" cy="0.6" r="0.6"><stop offset="0" stop-color="#80847a"/><stop offset="0.45" stop-color="#60645a"/><stop offset="0.8" stop-color="#33362f"/><stop offset="1" stop-color="#151714"/></radialGradient><radialGradient id="g4" cx="0.5" cy="0.7" r="0.65"><stop offset="0" stop-color="#6e7263"/><stop offset="0.5" stop-color="#4e5246"/><stop offset="0.85" stop-color="#262923"/><stop offset="1" stop-color="#121412"/></radialGradient><radialGradient id="g5" cx="0.5" cy="0.6" r="0.6"><stop offset="0" stop-color="#545849"/><stop offset="0.6" stop-color="#3e4136"/><stop offset="1" stop-color="#151714"/></radialGradient><radialGradient id="g6" cx="0.5" cy="0.55" r="0.58"><stop offset="0" stop-color="#5f6353"/><stop offset="0.6" stop-color="#45493d"/><stop offset="1" stop-color="#181a16"/></radialGradient><radialGradient id="g7" cx="0.5" cy="0.62" r="0.55"><stop offset="0" stop-color="#767c76"/><stop offset="0.7" stop-color="#646a65"/><stop offset="1" stop-color="#3a3f3c"/></radialGradient><radialGradient id="g8" cx="0.62" cy="0.6" r="0.6"><stop offset="0" stop-color="#989a8e"/><stop offset="0.6" stop-color="#82857a"/><stop offset="1" stop-color="#44473f"/></radialGradient><radialGradient id="g9" cx="0.5" cy="0.7" r="0.6"><stop offset="0" stop-color="#8e9184"/><stop offset="0.7" stop-color="#7e8275"/><stop offset="1" stop-color="#3b3f39"/></radialGradient><radialGradient id="g10" cx="0.5" cy="0.5" r="0.5"><stop offset="0" stop-color="#8a8d87"/><stop offset="0.85" stop-color="#80837d"/><stop offset="1" stop-color="#474a46"/></radialGradient><radialGradient id="g11" cx="0.5" cy="0.62" r="0.55"><stop offset="0" stop-color="#50544a"/><stop offset="0.5" stop-color="#33372f"/><stop offset="0.85" stop-color="#1c1e1a"/><stop offset="1" stop-color="#0e0f0d"/></radialGradient><radialGradient id="g12" cx="0.5" cy="0.5" r="0.5"><stop offset="0" stop-color="#3c4038"/><stop offset="0.4" stop-color="#4c5047"/><stop offset="0.7" stop-color="#6a6e66"/><stop offset="0.9" stop-color="#7e817a"/><stop offset="1" stop-color="#3a3d39"/></radialGradient></defs>
<clipPath id="cp1"><rect x="39.5" y="320.6" width="179.1" height="117.39999999999998"/></clipPath>
<g clip-path="url(#cp1)"><g filter="url(#soft)">
<rect x="37.5" y="318.6" width="183.1" height="121.39999999999998" fill="url(#gPlate1)"/>
<rect x="39.5" y="320.6" width="179.1" height="117.39999999999998" filter="url(#tex)"/>
<ellipse cx="61.8" cy="336.3" rx="15.45" ry="16.85" fill="none" stroke="url(#gRim)" stroke-width="1.7" opacity="0.8"/><ellipse cx="61.8" cy="336.3" rx="14.9" ry="16.3" fill="#121413"/><ellipse cx="61.8" cy="337.3" rx="11.3" ry="12.7" fill="url(#g7)"/>
<ellipse cx="100.4" cy="322" rx="15.85" ry="17.35" fill="none" stroke="url(#gRim)" stroke-width="1.7" opacity="0.8"/><ellipse cx="100.4" cy="322" rx="15.3" ry="16.8" fill="#121413"/><ellipse cx="100.4" cy="323.0" rx="12.5" ry="14.0" fill="url(#g9)"/>
<ellipse cx="141.7" cy="344.6" rx="18.05" ry="20.05" fill="none" stroke="url(#gRim)" stroke-width="1.7" opacity="0.8"/><ellipse cx="141.7" cy="344.6" rx="17.5" ry="19.5" fill="#121413"/><ellipse cx="141.7" cy="345.6" rx="15.2" ry="17.2" fill="url(#g8)"/>
<ellipse cx="195.8" cy="356" rx="18.05" ry="19.85" fill="none" stroke="url(#gRim)" stroke-width="1.7" opacity="0.8"/><ellipse cx="195.8" cy="356" rx="17.5" ry="19.3" fill="#121413"/><ellipse cx="195.8" cy="357.8" rx="15.799999999999999" ry="17.6" fill="url(#g1)"/><ellipse cx="195.8" cy="357.8" rx="15.799999999999999" ry="17.6" fill="#fff" filter="url(#mott)"/>
<ellipse cx="63" cy="374.9" rx="17.25" ry="19.35" fill="none" stroke="url(#gRim)" stroke-width="1.7" opacity="0.8"/><ellipse cx="63" cy="374.9" rx="16.7" ry="18.8" fill="#121413"/><ellipse cx="63" cy="375.7" rx="14.799999999999999" ry="16.9" fill="url(#g3)"/>
<ellipse cx="106.2" cy="364" rx="18.35" ry="20.650000000000002" fill="none" stroke="url(#gRim)" stroke-width="1.7" opacity="0.8"/><ellipse cx="106.2" cy="364" rx="17.8" ry="20.1" fill="#121413"/><ellipse cx="106.2" cy="364.8" rx="16.1" ry="18.400000000000002" fill="url(#g4)"/>
<ellipse cx="68.1" cy="421" rx="18.650000000000002" ry="20.650000000000002" fill="none" stroke="url(#gRim)" stroke-width="1.7" opacity="0.8"/><ellipse cx="68.1" cy="421" rx="18.1" ry="20.1" fill="#121413"/><ellipse cx="68.1" cy="421.8" rx="16.2" ry="18.2" fill="url(#g5)"/>
<ellipse cx="110.8" cy="420.5" rx="18.75" ry="20.650000000000002" fill="none" stroke="url(#gRim)" stroke-width="1.7" opacity="0.8"/><ellipse cx="110.8" cy="420.5" rx="18.2" ry="20.1" fill="#121413"/><ellipse cx="110.8" cy="421.3" rx="16.299999999999997" ry="18.2" fill="url(#g5)"/>
<ellipse cx="154.8" cy="401.3" rx="18.450000000000003" ry="20.950000000000003" fill="none" stroke="url(#gRim)" stroke-width="1.7" opacity="0.8"/><ellipse cx="154.8" cy="401.3" rx="17.900000000000002" ry="20.400000000000002" fill="#121413"/><ellipse cx="154.8" cy="402.1" rx="16.0" ry="18.5" fill="url(#g6)"/>
<ellipse cx="195.8" cy="414.5" rx="18.05" ry="20.05" fill="none" stroke="url(#gRim)" stroke-width="1.7" opacity="0.8"/><ellipse cx="195.8" cy="414.5" rx="17.5" ry="19.5" fill="#121413"/><ellipse cx="195.8" cy="416.3" rx="15.799999999999999" ry="17.8" fill="url(#g1)"/><ellipse cx="195.8" cy="416.3" rx="15.799999999999999" ry="17.8" fill="#fff" filter="url(#mott)"/>
<polygon points="203,320 219,320 219,339" fill="#6e7374" opacity="0.7"/><line x1="184" y1="320" x2="219" y2="352" stroke="#7e8282" stroke-width="0.8" opacity="0.6"/><line x1="218.1" y1="320" x2="218.1" y2="438" stroke="#111" stroke-width="1"/><line x1="142.9" y1="440" x2="218" y2="365" stroke="#8a8e8e" stroke-width="0.8" opacity="0.7"/><path d="M38,317.6 L133.5,345.1" stroke="#0a0a0a" stroke-width="4" stroke-linecap="round"/>
<rect x="39.5" y="320.6" width="179.1" height="2.4" fill="#0b0c0c"/>
</g></g>
<clipPath id="cp2"><rect x="284" y="320.5" width="169.89999999999998" height="117.30000000000001"/></clipPath>
<g clip-path="url(#cp2)"><g filter="url(#soft)">
<rect x="282" y="318.5" width="173.89999999999998" height="121.30000000000001" fill="url(#gPlate)"/>
<rect x="284" y="320.5" width="169.89999999999998" height="117.30000000000001" filter="url(#tex)"/>
<circle cx="304.9" cy="345.6" r="17.450000000000003" fill="none" stroke="url(#gRim)" stroke-width="1.7" opacity="0.85"/><circle cx="304.9" cy="345.6" r="16.6" fill="#121413"/><circle cx="304.9" cy="346.6" r="15.100000000000001" fill="url(#g10)"/><circle cx="304.9" cy="346.6" r="15.100000000000001" fill="#fff" filter="url(#mott)" opacity="0.7"/><circle cx="310.9" cy="346.8" r="12.5" fill="#121412"/><circle cx="310.9" cy="346.8" r="11.2" fill="url(#g11)"/><ellipse cx="310.9" cy="342.9" rx="3.9" ry="1.7" fill="#9a9c92" opacity="0.55"/>
<circle cx="343" cy="333.2" r="15.549999999999999" fill="none" stroke="url(#gRim)" stroke-width="1.7" opacity="0.85"/><circle cx="343" cy="333.2" r="14.7" fill="#121413"/><circle cx="343" cy="334.2" r="13.2" fill="url(#g10)"/><circle cx="343" cy="334.2" r="13.2" fill="#fff" filter="url(#mott)" opacity="0.7"/><circle cx="343" cy="333.5" r="11.8" fill="#121412"/><circle cx="343" cy="333.5" r="10.5" fill="url(#g11)"/><ellipse cx="343" cy="329.8" rx="3.7" ry="1.6" fill="#9a9c92" opacity="0.55"/>
<circle cx="422.5" cy="327" r="14.85" fill="none" stroke="url(#gRim)" stroke-width="1.7" opacity="0.85"/><circle cx="422.5" cy="327" r="14" fill="#121413"/><circle cx="422.5" cy="328.0" r="12.5" fill="url(#g10)"/><circle cx="422.5" cy="328.0" r="12.5" fill="#fff" filter="url(#mott)" opacity="0.7"/><circle cx="423" cy="327" r="11.3" fill="#121412"/><circle cx="423" cy="327" r="10" fill="url(#g11)"/><ellipse cx="423" cy="323.5" rx="3.5" ry="1.5" fill="#9a9c92" opacity="0.55"/>
<circle cx="460.5" cy="332.5" r="15.549999999999999" fill="none" stroke="url(#gRim)" stroke-width="1.7" opacity="0.85"/><circle cx="460.5" cy="332.5" r="14.7" fill="#121413"/><circle cx="460.5" cy="333.7" r="13.3" fill="url(#g2)"/><circle cx="460.5" cy="333.7" r="13.3" fill="#fff" filter="url(#mott)"/>
<circle cx="383" cy="359" r="17.35" fill="none" stroke="url(#gRim)" stroke-width="1.7" opacity="0.85"/><circle cx="383" cy="359" r="16.5" fill="#121413"/><circle cx="383" cy="360.0" r="15.0" fill="url(#g10)"/><circle cx="383" cy="360.0" r="15.0" fill="#fff" filter="url(#mott)" opacity="0.7"/><circle cx="384" cy="360" r="12.3" fill="#121412"/><circle cx="384" cy="360" r="11" fill="url(#g11)"/><ellipse cx="384" cy="356.1" rx="3.8" ry="1.6" fill="#9a9c92" opacity="0.55"/>
<circle cx="433.3" cy="366.6" r="17.85" fill="none" stroke="url(#gRim)" stroke-width="1.7" opacity="0.85"/><circle cx="433.3" cy="366.6" r="17" fill="#121413"/><circle cx="433.3" cy="367.6" r="15.5" fill="url(#g10)"/><circle cx="433.3" cy="367.6" r="15.5" fill="#fff" filter="url(#mott)" opacity="0.7"/><circle cx="434.5" cy="366.5" r="13.100000000000001" fill="#121412"/><circle cx="434.5" cy="366.5" r="11.8" fill="url(#g11)"/><ellipse cx="434.5" cy="362.4" rx="4.1" ry="1.8" fill="#9a9c92" opacity="0.55"/>
<circle cx="307" cy="385.4" r="17.85" fill="none" stroke="url(#gRim)" stroke-width="1.7" opacity="0.85"/><circle cx="307" cy="385.4" r="17" fill="#121413"/><circle cx="307" cy="386.4" r="15.5" fill="url(#g10)"/><circle cx="307" cy="386.4" r="15.5" fill="#fff" filter="url(#mott)" opacity="0.7"/><circle cx="312.9" cy="387" r="11.8" fill="#121412"/><circle cx="312.9" cy="387" r="10.5" fill="url(#g11)"/><ellipse cx="312.9" cy="383.3" rx="3.7" ry="1.6" fill="#9a9c92" opacity="0.55"/>
<circle cx="348" cy="376" r="17.650000000000002" fill="none" stroke="url(#gRim)" stroke-width="1.7" opacity="0.85"/><circle cx="348" cy="376" r="16.8" fill="#121413"/><circle cx="348" cy="377.0" r="15.3" fill="url(#g12)"/>
<circle cx="394.8" cy="405.3" r="17.85" fill="none" stroke="url(#gRim)" stroke-width="1.7" opacity="0.85"/><circle cx="394.8" cy="405.3" r="17" fill="#121413"/><circle cx="394.8" cy="406.3" r="15.5" fill="url(#g12)"/>
<circle cx="311" cy="423" r="17.85" fill="none" stroke="url(#gRim)" stroke-width="1.7" opacity="0.85"/><circle cx="311" cy="423" r="17" fill="#121413"/><circle cx="311" cy="424.0" r="15.5" fill="url(#g10)"/><circle cx="311" cy="424.0" r="15.5" fill="#fff" filter="url(#mott)" opacity="0.7"/><circle cx="316.7" cy="423" r="12.100000000000001" fill="#121412"/><circle cx="316.7" cy="423" r="10.8" fill="url(#g11)"/><ellipse cx="316.7" cy="419.2" rx="3.8" ry="1.6" fill="#9a9c92" opacity="0.55"/>
<circle cx="352.3" cy="422.5" r="17.85" fill="none" stroke="url(#gRim)" stroke-width="1.7" opacity="0.85"/><circle cx="352.3" cy="422.5" r="17" fill="#121413"/><circle cx="352.3" cy="423.5" r="15.5" fill="url(#g10)"/><circle cx="352.3" cy="423.5" r="15.5" fill="#fff" filter="url(#mott)" opacity="0.7"/><circle cx="357.4" cy="422" r="12.100000000000001" fill="#121412"/><circle cx="357.4" cy="422" r="10.8" fill="url(#g11)"/><ellipse cx="357.4" cy="418.2" rx="3.8" ry="1.6" fill="#9a9c92" opacity="0.55"/>
<circle cx="434.3" cy="418" r="17.85" fill="none" stroke="url(#gRim)" stroke-width="1.7" opacity="0.85"/><circle cx="434.3" cy="418" r="17" fill="#121413"/><circle cx="434.3" cy="419.0" r="15.5" fill="url(#g10)"/><circle cx="434.3" cy="419.0" r="15.5" fill="#fff" filter="url(#mott)" opacity="0.7"/><circle cx="436.2" cy="418.3" r="12.8" fill="#121412"/><circle cx="436.2" cy="418.3" r="11.5" fill="url(#g11)"/><ellipse cx="436.2" cy="414.3" rx="4.0" ry="1.7" fill="#9a9c92" opacity="0.55"/>
<line x1="390" y1="440" x2="456" y2="380" stroke="#8a8e8e" stroke-width="0.8" opacity="0.6"/>
<rect x="284" y="320.5" width="169.89999999999998" height="2.4" fill="#0b0c0c"/>
</g></g>
<clipPath id="cp3"><rect x="512.3" y="320.8" width="171.5" height="117.19999999999999"/></clipPath>
<g clip-path="url(#cp3)"><g filter="url(#soft)">
<rect x="510.29999999999995" y="318.8" width="175.5" height="121.19999999999999" fill="url(#gPlate)"/>
<rect x="512.3" y="320.8" width="171.5" height="117.19999999999999" filter="url(#tex)"/>
<circle cx="533.1" cy="345.6" r="17.450000000000003" fill="none" stroke="url(#gRim)" stroke-width="1.7" opacity="0.6"/><circle cx="533.1" cy="345.6" r="16.6" fill="#121413"/><circle cx="533.1" cy="347.5" r="15.500000000000002" fill="url(#g2)"/><circle cx="533.1" cy="347.5" r="15.500000000000002" fill="#fff" filter="url(#mott)"/>
<circle cx="571.2" cy="333.2" r="15.549999999999999" fill="none" stroke="url(#gRim)" stroke-width="1.7" opacity="0.6"/><circle cx="571.2" cy="333.2" r="14.7" fill="#121413"/><circle cx="571.2" cy="335.1" r="13.6" fill="url(#g2)"/><circle cx="571.2" cy="335.1" r="13.6" fill="#fff" filter="url(#mott)"/>
<circle cx="650.7" cy="327" r="14.85" fill="none" stroke="url(#gRim)" stroke-width="1.7" opacity="0.6"/><circle cx="650.7" cy="327" r="14" fill="#121413"/><circle cx="650.7" cy="328.9" r="12.9" fill="url(#g2)"/><circle cx="650.7" cy="328.9" r="12.9" fill="#fff" filter="url(#mott)"/>
<circle cx="688.7" cy="332.5" r="15.549999999999999" fill="none" stroke="url(#gRim)" stroke-width="1.7" opacity="0.6"/><circle cx="688.7" cy="332.5" r="14.7" fill="#121413"/><circle cx="688.7" cy="334.4" r="13.6" fill="url(#g2)"/><circle cx="688.7" cy="334.4" r="13.6" fill="#fff" filter="url(#mott)"/>
<circle cx="611.2" cy="359" r="17.35" fill="none" stroke="url(#gRim)" stroke-width="1.7" opacity="0.6"/><circle cx="611.2" cy="359" r="16.5" fill="#121413"/><circle cx="611.2" cy="360.9" r="15.4" fill="url(#g2)"/><circle cx="611.2" cy="360.9" r="15.4" fill="#fff" filter="url(#mott)"/>
<circle cx="661.5" cy="366.6" r="17.85" fill="none" stroke="url(#gRim)" stroke-width="1.7" opacity="0.6"/><circle cx="661.5" cy="366.6" r="17" fill="#121413"/><circle cx="661.5" cy="368.5" r="15.9" fill="url(#g2)"/><circle cx="661.5" cy="368.5" r="15.9" fill="#fff" filter="url(#mott)"/>
<circle cx="535.2" cy="385.4" r="17.85" fill="none" stroke="url(#gRim)" stroke-width="1.7" opacity="0.6"/><circle cx="535.2" cy="385.4" r="17" fill="#121413"/><circle cx="535.2" cy="387.3" r="15.9" fill="url(#g2)"/><circle cx="535.2" cy="387.3" r="15.9" fill="#fff" filter="url(#mott)"/>
<circle cx="576.2" cy="376" r="17.650000000000002" fill="none" stroke="url(#gRim)" stroke-width="1.7" opacity="0.6"/><circle cx="576.2" cy="376" r="16.8" fill="#121413"/><circle cx="576.2" cy="377.9" r="15.700000000000001" fill="url(#g2)"/><circle cx="576.2" cy="377.9" r="15.700000000000001" fill="#fff" filter="url(#mott)"/>
<circle cx="623.0" cy="405.3" r="17.85" fill="none" stroke="url(#gRim)" stroke-width="1.7" opacity="0.6"/><circle cx="623.0" cy="405.3" r="17" fill="#121413"/><circle cx="623.0" cy="407.2" r="15.9" fill="url(#g2)"/><circle cx="623.0" cy="407.2" r="15.9" fill="#fff" filter="url(#mott)"/>
<circle cx="539.2" cy="423" r="17.85" fill="none" stroke="url(#gRim)" stroke-width="1.7" opacity="0.6"/><circle cx="539.2" cy="423" r="17" fill="#121413"/><circle cx="539.2" cy="424.9" r="15.9" fill="url(#g2)"/><circle cx="539.2" cy="424.9" r="15.9" fill="#fff" filter="url(#mott)"/>
<circle cx="580.5" cy="422.5" r="17.85" fill="none" stroke="url(#gRim)" stroke-width="1.7" opacity="0.6"/><circle cx="580.5" cy="422.5" r="17" fill="#121413"/><circle cx="580.5" cy="424.4" r="15.9" fill="url(#g2)"/><circle cx="580.5" cy="424.4" r="15.9" fill="#fff" filter="url(#mott)"/>
<circle cx="662.5" cy="418" r="17.85" fill="none" stroke="url(#gRim)" stroke-width="1.7" opacity="0.6"/><circle cx="662.5" cy="418" r="17" fill="#121413"/><circle cx="662.5" cy="419.9" r="15.9" fill="url(#g2)"/><circle cx="662.5" cy="419.9" r="15.9" fill="#fff" filter="url(#mott)"/>
<circle cx="532.5" cy="334.6" r="2.5" fill="#0a0a0a"/>
<circle cx="580.3" cy="335.4" r="2.5" fill="#0a0a0a"/>
<circle cx="622.4" cy="353.8" r="2.5" fill="#0a0a0a"/>
<circle cx="669.7" cy="358.9" r="2.5" fill="#0a0a0a"/>
<circle cx="535" cy="384.9" r="2.5" fill="#0a0a0a"/>
<circle cx="587.9" cy="372.9" r="2.5" fill="#0a0a0a"/>
<circle cx="636.5" cy="401" r="2.5" fill="#0a0a0a"/>
<circle cx="545.8" cy="427.9" r="2.5" fill="#0a0a0a"/>
<circle cx="576.4" cy="410.5" r="2.5" fill="#0a0a0a"/>
<circle cx="669.7" cy="408.7" r="2.5" fill="#0a0a0a"/>
<line x1="618" y1="440" x2="685" y2="380" stroke="#8a8e8e" stroke-width="0.8" opacity="0.6"/>
<rect x="512.3" y="320.8" width="171.5" height="2.4" fill="#0b0c0c"/>
</g></g>
<polygon points="227.9,367.7 248.4,367.7 264.5,379.6 248.4,391.4 227.9,391.4 243.2,379.6" fill="#ff0000"/>
<polygon points="461.7,368.2 482.3,368.2 498.1,379.4 482.3,391.2 461.7,391.2 476.5,379.4" fill="#ff0000"/>
<g stroke="#ff1010" stroke-width="2.2" fill="none">
<line x1="350.2" y1="391" x2="350.2" y2="482"/>
<line x1="387.5" y1="416.6" x2="353.5" y2="481"/>
<line x1="436.8" y1="431.6" x2="458.2" y2="481"/>
<line x1="548.4" y1="429.6" x2="569.6" y2="480"/>
</g>
<g fill="#ff1010">
<polygon points="345.6,480.6 357.4,483 350.2,488.4"/>
<polygon points="453.9,482 461.7,479.2 460.5,487.7"/>
<polygon points="565,482 573.2,479 571.8,486.4"/>
</g>
<text x="336.1" y="500.8" font-size="10" font-weight="bold" text-anchor="middle" fill="#111" textLength="72" lengthAdjust="spacingAndGlyphs">Active Rotation</text>
<text x="451.8" y="493.8" font-size="10" font-weight="bold" text-anchor="middle" fill="#111" textLength="85.5" lengthAdjust="spacingAndGlyphs">Constant Rotation</text>
<text x="591.8" y="494.2" font-size="10" font-weight="bold" text-anchor="middle" fill="#111" textLength="115.6" lengthAdjust="spacingAndGlyphs">Ferromagnetic graphene</text>
<text x="592.6" y="507.9" font-size="10" font-weight="bold" text-anchor="middle" fill="#111" textLength="40.2" lengthAdjust="spacingAndGlyphs">particles</text>
</svg></div></body></html>
